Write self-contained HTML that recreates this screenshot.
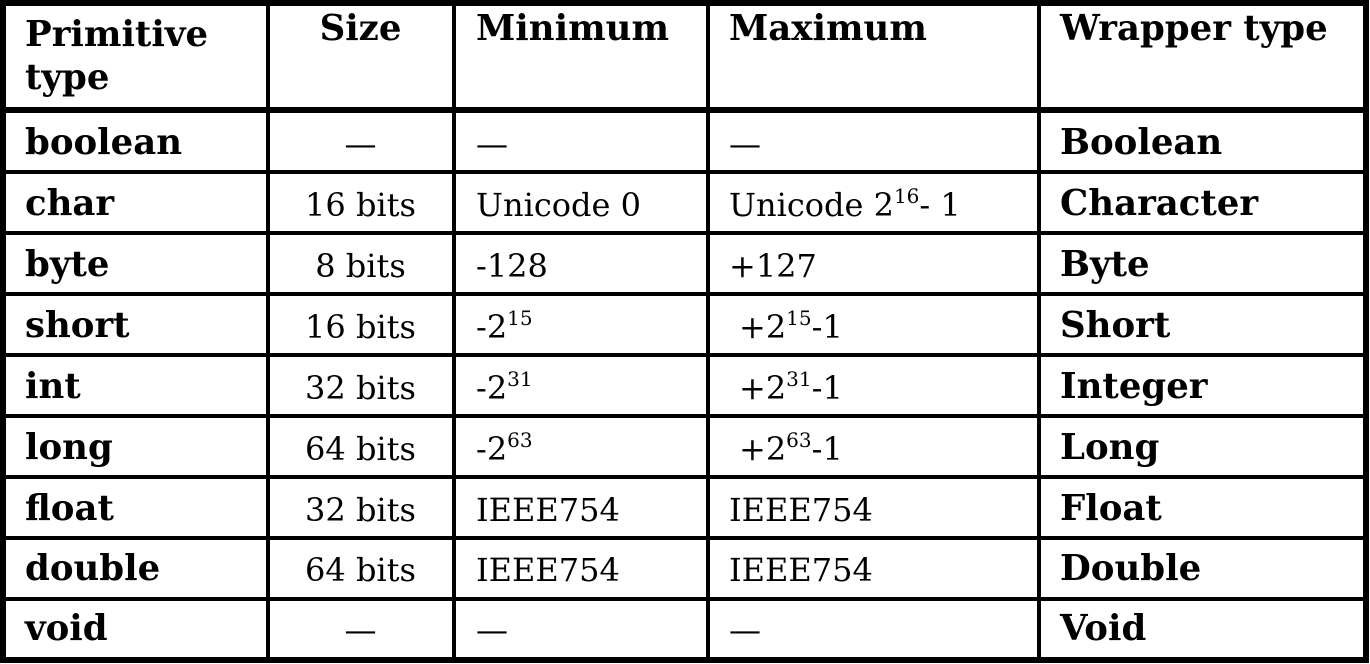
<!DOCTYPE html>
<html><head><meta charset="utf-8"><style>
body{margin:0;width:1370px;height:664px;background:#fff;position:relative;overflow:hidden;font-family:"DejaVu Serif","Liberation Serif",serif;color:#000}
.l{position:absolute;background:#000}
.t{position:absolute;line-height:34px;font-size:32px;white-space:nowrap}
.b{font-weight:bold;font-size:35.5px;margin-top:-1px}
.c{width:183px;text-align:center;left:269px}
sup{font-size:20px;vertical-align:13px;line-height:0}
</style></head><body>
<div class="l" style="left:0;top:0;width:1369px;height:6px"></div>
<div class="l" style="left:0;top:657px;width:1369px;height:6px"></div>
<div class="l" style="left:0;top:0;width:6px;height:663px"></div>
<div class="l" style="left:1363px;top:0;width:6px;height:663px"></div>
<div class="l" style="left:266px;top:0;width:4px;height:663px"></div>
<div class="l" style="left:452px;top:0;width:4px;height:663px"></div>
<div class="l" style="left:706px;top:0;width:4px;height:663px"></div>
<div class="l" style="left:1037px;top:0;width:4px;height:663px"></div>
<div class="l" style="left:0;top:107px;width:1369px;height:6px"></div>
<div class="l" style="left:0;top:170px;width:1369px;height:4px"></div>
<div class="l" style="left:0;top:231px;width:1369px;height:4px"></div>
<div class="l" style="left:0;top:292px;width:1369px;height:4px"></div>
<div class="l" style="left:0;top:353px;width:1369px;height:4px"></div>
<div class="l" style="left:0;top:414px;width:1369px;height:4px"></div>
<div class="l" style="left:0;top:475px;width:1369px;height:4px"></div>
<div class="l" style="left:0;top:536px;width:1369px;height:4px"></div>
<div class="l" style="left:0;top:597px;width:1369px;height:4px"></div>

<div class="t b" style="left:25px;top:19px">Primitive</div>
<div class="t b" style="left:25px;top:62px">type</div>
<div class="t b c" style="top:13px">Size</div>
<div class="t b" style="left:476px;top:13px">Minimum</div>
<div class="t b" style="left:729px;top:13px">Maximum</div>
<div class="t b" style="left:1060px;top:13px">Wrapper type</div>

<div class="t b" style="left:25px;top:127px">boolean</div>
<div class="t c" style="top:127px">—</div>
<div class="t" style="left:476px;top:127px">—</div>
<div class="t" style="left:729px;top:127px">—</div>
<div class="t b" style="left:1060px;top:127px">Boolean</div>

<div class="t b" style="left:25px;top:188px">char</div>
<div class="t c" style="top:188px">16 bits</div>
<div class="t" style="left:476px;top:188px">Unicode 0</div>
<div class="t" style="left:729px;top:188px">Unicode 2<sup>16</sup>- 1</div>
<div class="t b" style="left:1060px;top:188px">Character</div>

<div class="t b" style="left:25px;top:249px">byte</div>
<div class="t c" style="top:249px">8 bits</div>
<div class="t" style="left:476px;top:249px">-128</div>
<div class="t" style="left:729px;top:249px">+127</div>
<div class="t b" style="left:1060px;top:249px">Byte</div>

<div class="t b" style="left:25px;top:310px">short</div>
<div class="t c" style="top:310px">16 bits</div>
<div class="t" style="left:476px;top:310px">-2<sup>15</sup></div>
<div class="t" style="left:739px;top:310px">+2<sup>15</sup>-1</div>
<div class="t b" style="left:1060px;top:310px">Short</div>

<div class="t b" style="left:25px;top:371px">int</div>
<div class="t c" style="top:371px">32 bits</div>
<div class="t" style="left:476px;top:371px">-2<sup>31</sup></div>
<div class="t" style="left:739px;top:371px">+2<sup>31</sup>-1</div>
<div class="t b" style="left:1060px;top:371px">Integer</div>

<div class="t b" style="left:25px;top:432px">long</div>
<div class="t c" style="top:432px">64 bits</div>
<div class="t" style="left:476px;top:432px">-2<sup>63</sup></div>
<div class="t" style="left:739px;top:432px">+2<sup>63</sup>-1</div>
<div class="t b" style="left:1060px;top:432px">Long</div>

<div class="t b" style="left:25px;top:493px">float</div>
<div class="t c" style="top:493px">32 bits</div>
<div class="t" style="left:476px;top:493px">IEEE754</div>
<div class="t" style="left:729px;top:493px">IEEE754</div>
<div class="t b" style="left:1060px;top:493px">Float</div>

<div class="t b" style="left:25px;top:553px">double</div>
<div class="t c" style="top:553px">64 bits</div>
<div class="t" style="left:476px;top:553px">IEEE754</div>
<div class="t" style="left:729px;top:553px">IEEE754</div>
<div class="t b" style="left:1060px;top:553px">Double</div>

<div class="t b" style="left:25px;top:613px">void</div>
<div class="t c" style="top:613px">—</div>
<div class="t" style="left:476px;top:613px">—</div>
<div class="t" style="left:729px;top:613px">—</div>
<div class="t b" style="left:1060px;top:613px">Void</div>
</body></html>
